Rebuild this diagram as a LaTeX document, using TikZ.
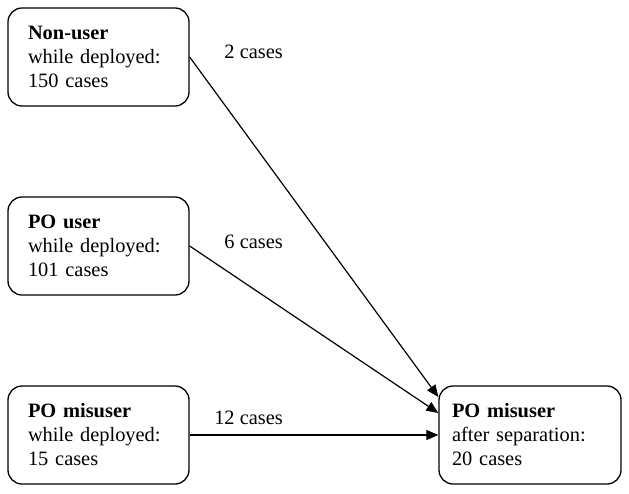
\documentclass[tikz,border=0pt]{standalone}
\usepackage{fontspec}
\setmainfont{Liberation Serif}
\usetikzlibrary{arrows.meta}
\begin{document}
\begin{tikzpicture}
    [   group/.style=
        {   draw
        ,   rectangle
        ,   rounded corners=14pt
        ,   line width=1.3pt
        ,   minimum width=181pt
        ,   minimum height=98pt
        ,   text width=141pt
        ,   inner xsep=20pt
        ,   align=left
        ,   font=\fontsize{20.4}{24}\selectfont
        }
    ,   x=1pt
    ,   y=-1pt
    ,   >={Triangle[length=12pt,width=10pt]}
    ]
    \useasboundingbox (0,0) rectangle (629,493);
    \node[group] (nonuser) at (98.5,57)
        {\textbf{Non-user}\\while deployed:\\150 cases};
    \node[group] (pouser) at (98.5,246)
        {\textbf{PO user}\\while deployed:\\101 cases};
    \node[group] (pomis) at (98.5,435)
        {\textbf{PO misuser}\\while deployed:\\15 cases};
    \node[group, minimum width=182pt, text width=156pt, inner xsep=13pt] (after) at (530,435)
        {\textbf{PO misuser}\\after separation:\\20 cases};
    \coordinate (in1) at ([yshift=38pt]after.west);
    \coordinate (in2) at ([yshift=22pt]after.west);
    \foreach\src/\dst/\lab/\ly in {nonuser/in1/2 cases/52,pouser/in2/6 cases/242,pomis/after.west/12 cases/418}
    {   \draw[->, line width=1.2pt] (\src.east) -- (\dst);
        \node [anchor=east, font=\fontsize{20.4}{24}\selectfont, inner sep=0pt] at (283,\ly) {\lab};
    }
\end{tikzpicture}
\end{document}
